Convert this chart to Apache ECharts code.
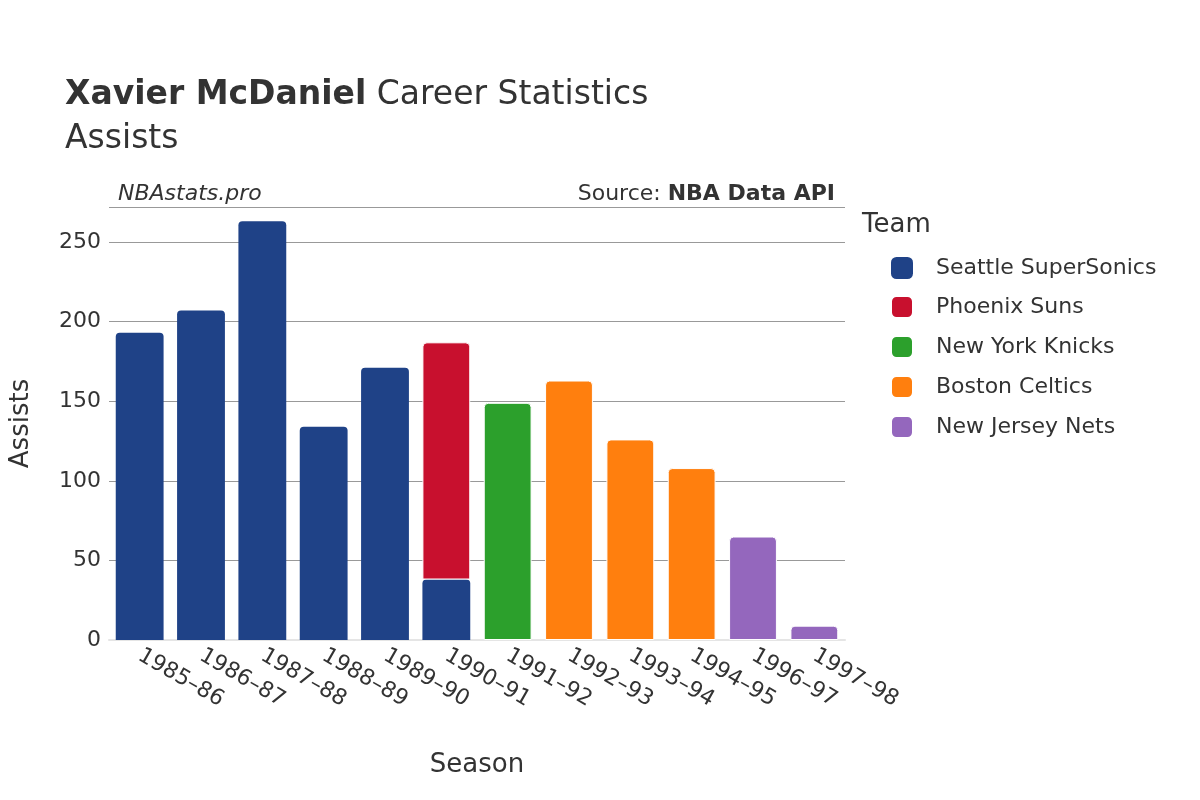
<!DOCTYPE html>
<html>
<head>
<meta charset="utf-8">
<script src="https://cdn.jsdelivr.net/npm/echarts@6/dist/echarts.min.js"></script>
<style>body{margin:0;background:#fff}#chart{width:1200px;height:800px}</style>
</head>
<body>
<div id="chart"></div>
<script>
// 赛季与各队助攻数据
const seasons = ["1985–86","1986–87","1987–88","1988–89","1989–90","1990–91","1991–92","1992–93","1993–94","1994–95","1996–97","1997–98"];
const teams = ["Seattle SuperSonics","Phoenix Suns","New York Knicks","Boston Celtics","New Jersey Nets"];
const teamColors = ["#1f4287","#c8102e","#2ca02c","#ff7f0e","#9467bd"];
const seattle = [193,207,263,134,171,38,null,null,null,null,null,null];
const phoenix = [null,null,null,null,null,149,null,null,null,null,null,null];
const knicks = [null,null,null,null,null,null,149,null,null,null,null,null];
const celtics = [null,null,null,null,null,null,null,163,126,108,null,null];
const nets = [null,null,null,null,null,null,null,null,null,null,65,9];
const yTicks = [0,50,100,150,200,250];

const font = "DejaVu Sans";
const chart = echarts.init(document.getElementById("chart"));
const seriesData = [seattle,phoenix,knicks,celtics,nets];
chart.setOption({
    textStyle:{fontFamily:font},
    title:[
        {text:"{b|Xavier McDaniel} Career Statistics\nAssists",left:60,top:68,
            textStyle:{fontSize:33,fontWeight:"normal",color:"#333",lineHeight:44,
                rich:{b:{fontSize:33,fontWeight:"bold",color:"#333",fontFamily:font}}}},
        {text:"NBAstats.pro",left:113,top:178,textStyle:{fontSize:22,fontStyle:"italic",fontWeight:"normal",color:"#333"}},
        {text:"Source: {b|NBA Data API}",right:360,top:178,
            textStyle:{fontSize:22,fontWeight:"normal",color:"#333",rich:{b:{fontSize:22,fontWeight:"bold",color:"#333",fontFamily:font}}}}
    ],
    legend:{
        orient:"vertical",left:885,top:252,itemGap:16,itemWidth:22,itemHeight:22,
        icon:"roundRect",data:teams,
        textStyle:{fontSize:22,color:"#333",padding:[0,0,0,18]}
    },
    graphic:[{type:"text",left:862,top:212,style:{text:"Team",fontSize:26,fill:"#333",fontFamily:font}}],
    grid:{left:108,right:355,top:207,bottom:160},
    xAxis:{
        type:"category",data:seasons,name:"Season",nameLocation:"middle",nameGap:112,
        nameTextStyle:{fontSize:26,color:"#333"},
        axisTick:{show:false},axisLine:{lineStyle:{color:"#e5e5e5",width:2}},
        axisLabel:{rotate:-30,fontSize:22,color:"#333",margin:14,interval:0}
    },
    yAxis:{
        type:"value",min:0,max:272,interval:50,name:"Assists",nameLocation:"middle",nameGap:75,
        nameTextStyle:{fontSize:26,color:"#333"},
        axisLabel:{fontSize:22,color:"#333",customValues:yTicks},
        splitLine:{lineStyle:{color:"#999"}},
        axisTick:{show:false},axisLine:{show:false}
    },
    series:teams.map((t,i)=>({
        name:t,type:"bar",stack:"a",data:seriesData[i],barCategoryGap:"22%",
        itemStyle:{color:teamColors[i],borderRadius:[4,4,0,0],borderColor:"#fff",borderWidth:i===0?0:1}
    }))
});
</script>
</body>
</html>
